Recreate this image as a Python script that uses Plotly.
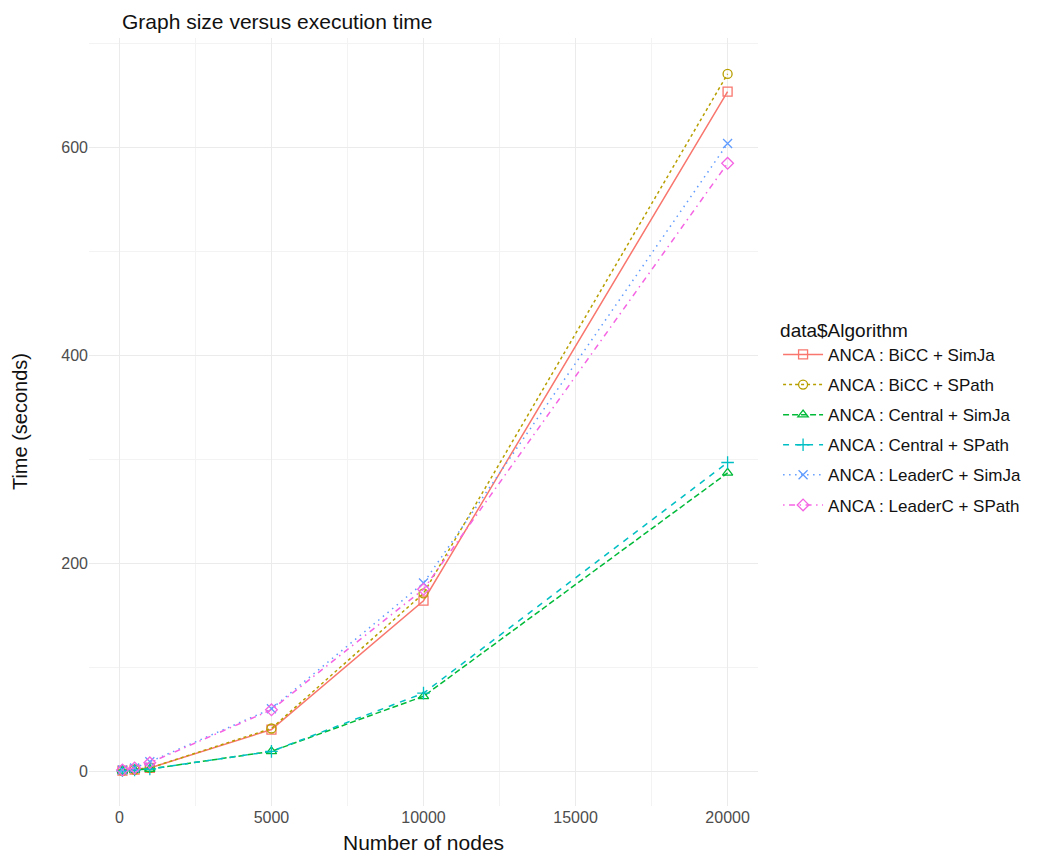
import plotly.graph_objects as go

nodes = [100, 500, 1000, 5000, 10000, 20000]
series_names = [
    "ANCA : BiCC + SimJa",
    "ANCA : BiCC + SPath",
    "ANCA : Central + SimJa",
    "ANCA : Central + SPath",
    "ANCA : LeaderC + SimJa",
    "ANCA : LeaderC + SPath",
]
bicc_simja = [0.5, 1.5, 3, 40, 164, 654]
bicc_spath = [0.5, 1.5, 3, 41, 171, 671]
central_simja = [0.3, 1, 2, 19, 72, 287]
central_spath = [0.3, 1, 2, 19, 75, 297]
leaderc_simja = [1, 3, 9, 60, 181, 604]
leaderc_spath = [1, 3, 8, 59, 175, 585]
values = [bicc_simja, bicc_spath, central_simja, central_spath, leaderc_simja, leaderc_spath]

colors = ["#F8766D", "#B79F00", "#00BA38", "#00BFC4", "#619CFF", "#F564E3"]
symbols = ["square-open", "circle-open", "triangle-up-open", "cross-thin-open", "x-thin-open", "diamond-open"]
dashes = ["solid", "3px,3px", "6px,3px", "6px,6px", "1.5px,4.5px", "1.5px,4.5px,6px,4.5px"]

fig = go.Figure()
for i, (name, ys) in enumerate(zip(series_names, values)):
    fig.add_trace(go.Scatter(
        x=nodes, y=ys, name=name, mode="lines+markers",
        legendgroup=name,
        line=dict(color=colors[i], width=1.5, dash=dashes[i]),
        marker=dict(symbol=symbols[i], size=9, color=colors[i],
                    line=dict(color=colors[i], width=1.3)),
    ))

font_family = "Liberation Sans, Arial, sans-serif"
fig.update_layout(
    width=1050, height=848,
    margin=dict(l=81, r=300, t=30, b=50),
    paper_bgcolor="white", plot_bgcolor="white",
    font=dict(family=font_family, color="#222222"),
    showlegend=True,
    legend=dict(title=dict(text="data$Algorithm", font=dict(size=19, color="#111111")),
                x=1.03, xanchor="left", y=0.643, yanchor="top",
                font=dict(size=17, color="#111111"),
                traceorder="grouped", tracegroupgap=5,
                itemwidth=40, bgcolor="rgba(0,0,0,0)"),
    xaxis=dict(range=[-1000, 21000], tickvals=[0, 5000, 10000, 15000, 20000],
               ticktext=["0", "5000", "10000", "15000", "20000"], automargin=False,
               showgrid=True, gridcolor="#EBEBEB", gridwidth=1.2, zeroline=False,
               showline=False, ticks="", tickfont=dict(size=16, color="#4D4D4D"),
               minor=dict(tickvals=[2500, 7500, 12500, 17500], showgrid=True,
                          gridcolor="#F3F3F3", gridwidth=0.8)),
    yaxis=dict(range=[-33.6, 705.6], tickvals=[0, 200, 400, 600], automargin=False,
               showgrid=True, gridcolor="#EBEBEB", gridwidth=1.2, zeroline=False,
               showline=False, ticks="", tickfont=dict(size=16, color="#4D4D4D"),
               minor=dict(tickvals=[100, 300, 500, 700], showgrid=True,
                          gridcolor="#F3F3F3", gridwidth=0.8)),
    annotations=[
        dict(text="Graph size versus execution time", xref="paper", yref="paper",
             x=0.046, y=1.021, xanchor="left", yanchor="middle", showarrow=False,
             font=dict(size=21, color="#111111")),
        dict(text="Number of nodes", xref="paper", yref="paper", x=0.5, y=-0.047,
             xanchor="center", yanchor="middle", showarrow=False,
             font=dict(size=21, color="#111111")),
        dict(text="Time (seconds)", xref="paper", yref="paper", x=-0.103, y=0.5,
             xanchor="center", yanchor="middle", textangle=-90, showarrow=False,
             font=dict(size=20, color="#111111")),
    ],
)

fig.write_html("out.html")
